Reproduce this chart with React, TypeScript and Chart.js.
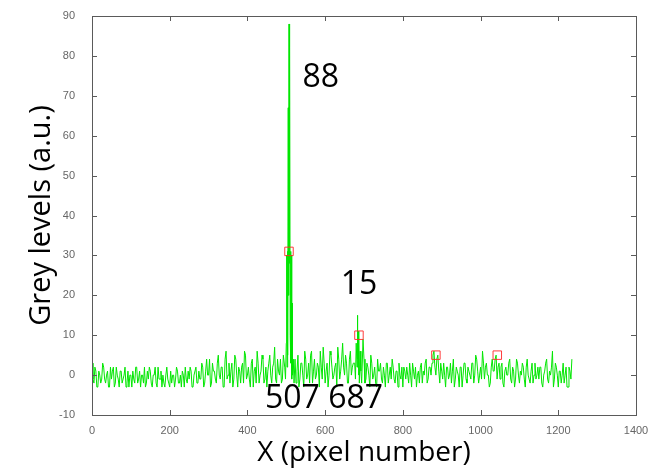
import React, { useEffect, useRef } from "react";
import { Chart, registerables } from "chart.js";

Chart.register(...registerables);

// Grey level sampled every 5 pixels along X (0 .. 1235)
const PIXEL_STEP = 5;
const greyLevels: number[] = [
  3, -2, 1, -3, 0, -1, 2, -2, 1, -3,
  -1, 2, -2, 0, -3, 1, -1, 2, -2, -3,
  0, 1, -2, 2, -1, -3, 0, 2, -2, -1,
  1, -3, 0, -2, 2, -1, -3, -2, 0, -1,
  -3, -2, 0, -1, 1, -2, -3, 0, 2, -2,
  -1, 1, -3, 0, -2, 1, -1, 2, -2, 4,
  0, -3, 3, 1, -2, 5, -1, 2, -3, 6,
  0, -2, 3, -1, 4, -3, 1, 2, -2, 5,
  0, -1, 3, -3, 2, 6, -2, 1, 4, -1,
  -3, 3, 0, 2, 7, -2, 1, 4, -1, 3,
  31, 67, 88, 18, 2, -2, 5, -1, 3, -3,
  4, 0, -2, 6, 1, -1, 3, -3, 2, 7,
  -2, 3, 0, 5, -1, 2, -3, 4, 1, 8,
  0, 3, -2, 6, 2, 7, 1, 3, 10, 15,
  4, -1, 2, -3, 3, 0, -2, 4, 1, -1,
  2, -3, 3, 0, -1, 2, -2, 1, 3, -1,
  -3, 1, 2, -2, 0, 3, -1, -3, 1, 2,
  -2, 0, 4, -1, 2, 3, 6, 0, 5, -2,
  1, 3, -3, 2, 0, -2, 4, -1, 1, -3,
  2, 0, 3, -2, 1, -1, 3, 0, 4, -2,
  2, 6, -1, 3, 0, -2, 4, 1, 5, 2,
  -1, 3, -3, 2, 0, 4, -2, 1, -1, 3,
  -2, 0, 2, -3, 4, -1, 1, -2, 3, 0,
  -1, 2, -3, 1, 4, -2, 0, 6, -1, 2,
  -3, 1, 0, -2, 2, -3, 1, 4,
];

// Grey level at the in-between pixels (2.5 .. 1232.5)
const greyLevelsMid: number[] = [
  -1, 2, -3, 1, -2, 3, -1, 0, -3, 2,
  1, -3, 2, -1, 1, -2, 0, -3, 1, 0,
  -3, -1, 2, -2, 1, 0, -2, -3, 1, 2,
  -2, 0, 2, -3, -1, 1, 0, -3, 2, -2,
  1, 0, -3, 2, -2, 0, 1, -3, -1, 1,
  2, -3, 0, 2, -2, -1, 3, -3, 1, 0,
  4, -2, 1, -1, 3, 0, 2, -3, 4, -1,
  3, 1, -3, 5, 0, 2, -2, 3, 6, -1,
  2, -3, 4, 1, -2, 3, 0, 5, -2, 2,
  1, 5, -2, 3, -1, 4, 0, -2, 5, 1,
  30, 82, 31, 2, 4, 1, -3, 3, 0, 6,
  -1, 3, 5, -2, 4, 0, 2, 6, -1, 3,
  1, -3, 6, 2, 0, 3, 7, -1, 4, 2,
  5, -2, 4, 0, 3, 8, 2, 6, 4, 9,
  -2, 3, 0, 5, -1, 2, -3, 1, 3, -2,
  0, 3, -2, 2, 4, -1, 1, -3, 0, 2,
  2, -1, 0, 3, -3, 1, 2, 0, -2, 3,
  1, 3, -2, 2, 0, 5, 2, 4, 1, 3,
  -1, 0, 2, -1, 3, 1, -3, 2, 0, 2,
  -3, 3, -1, 2, 0, 3, -2, 5, 1, 0,
  -1, 3, 2, 0, -3, 2, 1, 4, -1, 3,
  2, -2, 1, 0, 3, -1, 2, -3, 4, 0,
  1, 3, -1, 2, 0, -2, 3, 0, -1, 2,
  2, -2, 0, 3, -1, 1, 2, -3, 3, 0,
  1, -2, 3, 0, -3, 2, -1,
];

// Finer samples around the main peak (507)
const peak1X = [496, 498, 500, 501, 502, 503, 504, 505, 506, 507, 508, 509, 510, 511, 512, 513, 514, 515, 516, 518, 520];
const peak1Y = [2, -1, 8, 30, 2, 31, 5, 67, 20, 88, 28, 82, 10, 31, 3, 30, -1, 18, 0, 4, -2];

// Finer samples around the second peak (687)
const peak2X = [676, 678, 680, 682, 683, 684, 685, 686, 687, 688, 690, 692, 694];
const peak2Y = [3, -1, 8, 2, 15, 4, 11, 0, 10, -2, 6, 1, -2];

// Detected peaks (red squares)
const markerX = [507, 687, 885, 1043];
const markerY = [31, 10, 5, 5];

// Text annotations
const labelTexts = ["88", "15", "507 687"];
const labelX = [589, 687, 597];
const labelY = [74.5, 22.6, -6];

const xTicks = [0, 200, 400, 600, 800, 1000, 1200, 1400];
const yTicks = [-10, 0, 10, 20, 30, 40, 50, 60, 70, 80, 90];

const TITLE_FONT = "'Open Sans', 'DejaVu Sans', sans-serif";

export default function App() {
  const canvasRef = useRef<HTMLCanvasElement | null>(null);

  useEffect(() => {
    document.body.style.margin = "0";
    const canvas = canvasRef.current;
    if (!canvas) return;

    const inPeak = (x: number) => (x >= 495 && x <= 520) || (x >= 675 && x <= 695);
    const base = [
      ...greyLevels.map((y, i) => ({ x: i * PIXEL_STEP, y })),
      ...greyLevelsMid.map((y, i) => ({ x: i * PIXEL_STEP + PIXEL_STEP / 2, y })),
    ].filter((p) => !inPeak(p.x));
    const linePts = [
      ...base,
      ...peak1X.map((x, i) => ({ x, y: peak1Y[i] })),
      ...peak2X.map((x, i) => ({ x, y: peak2Y[i] })),
    ].sort((a, b) => a.x - b.x);

    const frame = {
      id: "frame",
      afterDraw(chart: any) {
        const { ctx, chartArea: a, scales } = chart;
        const xs = scales.x;
        const ys = scales.y;
        ctx.save();
        ctx.strokeStyle = "#5a5a5a";
        ctx.lineWidth = 1;
        ctx.strokeRect(a.left + 0.5, a.top + 0.5, a.right - a.left, a.bottom - a.top);
        const tl = 5;
        ctx.beginPath();
        xTicks.forEach((v) => {
          const px = Math.round(xs.getPixelForValue(v)) + 0.5;
          ctx.moveTo(px, a.bottom);
          ctx.lineTo(px, a.bottom - tl);
          ctx.moveTo(px, a.top);
          ctx.lineTo(px, a.top + tl);
        });
        yTicks.forEach((v) => {
          const py = Math.round(ys.getPixelForValue(v)) + 0.5;
          ctx.moveTo(a.left, py);
          ctx.lineTo(a.left + tl, py);
          ctx.moveTo(a.right, py);
          ctx.lineTo(a.right - tl, py);
        });
        ctx.stroke();

        // annotations
        ctx.fillStyle = "#000";
        ctx.textAlign = "center";
        ctx.textBaseline = "middle";
        ctx.font = `32px ${TITLE_FONT}`;
        labelTexts.forEach((t, i) => {
          ctx.fillText(t, xs.getPixelForValue(labelX[i]), ys.getPixelForValue(labelY[i]));
        });

        // axis titles
        ctx.font = `28px ${TITLE_FONT}`;
        ctx.textBaseline = "alphabetic";
        ctx.fillText("X (pixel number)", (a.left + a.right) / 2, 461);
        ctx.save();
        ctx.translate(50, (a.top + a.bottom) / 2);
        ctx.rotate(-Math.PI / 2);
        ctx.font = `29px ${TITLE_FONT}`;
        ctx.fillText("Grey levels (a.u.)", 0, 0);
        ctx.restore();
        ctx.restore();
      },
    };

    const chart = new Chart(canvas, {
      type: "line",
      data: {
        datasets: [
          {
            type: "scatter",
            data: markerX.map((x, i) => ({ x, y: markerY[i] })),
            pointStyle: "rect",
            pointRadius: 6,
            pointBorderColor: "rgba(255,40,40,0.9)",
            pointBackgroundColor: "rgba(0,0,0,0)",
            pointBorderWidth: 1,
            showLine: false,
          } as any,
          {
            data: linePts,
            borderColor: "rgb(0,230,0)",
            borderWidth: 1,
            pointRadius: 0,
            tension: 0,
            fill: false,
          },
        ],
      },
      options: {
        animation: false,
        responsive: false,
        events: [],
        layout: { padding: { top: 16, right: 32, left: 0, bottom: 0 } },
        plugins: { legend: { display: false }, tooltip: { enabled: false } },
        scales: {
          x: {
            type: "linear",
            min: 0,
            max: 1400,
            afterBuildTicks: (s: any) => {
              s.ticks = xTicks.map((v) => ({ value: v }));
            },
            afterFit: (s: any) => {
              s.height = 60;
            },
            grid: { display: false },
            border: { display: false },
            ticks: {
              color: "#666",
              font: { family: "'Liberation Sans', Arial, sans-serif", size: 11 },
              padding: 1,
              maxRotation: 0,
              autoSkip: false,
              callback: (v: any) => String(v),
            },
          },
          y: {
            type: "linear",
            min: -10,
            max: 90,
            afterBuildTicks: (s: any) => {
              s.ticks = yTicks.map((v) => ({ value: v }));
            },
            afterFit: (s: any) => {
              s.width = 92;
            },
            grid: { display: false },
            border: { display: false },
            ticks: {
              color: "#666",
              font: { family: "'Liberation Sans', Arial, sans-serif", size: 11 },
              padding: 9,
              autoSkip: false,
              callback: (v: any) => String(v),
            },
          },
        },
      },
      plugins: [frame],
    } as any);

    return () => chart.destroy();
  }, []);

  return (
    <div style={{ position: "absolute", left: 0, top: 0, width: 668, height: 475, background: "#fff" }}>
      <canvas ref={canvasRef} width={668} height={475} style={{ width: 668, height: 475 }} />
    </div>
  );
}
